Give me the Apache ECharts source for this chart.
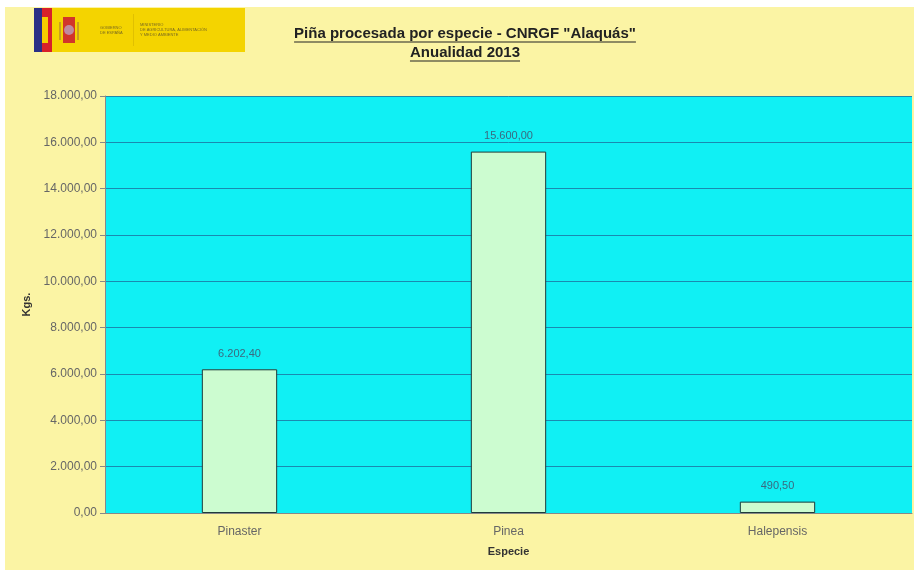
<!DOCTYPE html>
<html><head><meta charset="utf-8">
<script src="https://cdn.jsdelivr.net/npm/echarts@6/dist/echarts.min.js"></script>
<style>html,body{margin:0;padding:0;background:#fff;}#c{width:914px;height:570px;}</style>
</head><body><div id="c"></div>
<script>
var categories = ['Pinaster', 'Pinea', 'Halepensis'];
var values = [6202.40, 15600.00, 490.50];
var yTicks = [0, 2000, 4000, 6000, 8000, 10000, 12000, 14000, 16000, 18000];
var titleLines = ['Piña procesada por especie - CNRGF "Alaquás"', 'Anualidad 2013'];

function fmt(v) {
  var parts = v.toFixed(2).split('.');
  var ip = parts[0].replace(/\B(?=(\d{3})+(?!\d))/g, '.');
  return ip + ',' + parts[1];
}
var tf = 'bold 15px "Liberation Sans", Arial, sans-serif';
var cv = document.createElement('canvas').getContext('2d');
cv.font = tf;
var w1 = cv.measureText(titleLines[0]).width, w2 = cv.measureText(titleLines[1]).width;
var cx = 465;

var chart = echarts.init(document.getElementById('c'), null, {renderer: 'canvas'});
chart.setOption({
  backgroundColor: '#FBF4A4',
  animation: false,
  grid: {left: 105, right: 2, top: 96, bottom: 57},
  xAxis: {
    type: 'category', data: categories,
    name: 'Especie', nameLocation: 'middle', nameGap: 33,
    nameTextStyle: {fontFamily: 'Liberation Sans', fontWeight: 'bold', fontSize: 11, color: '#333'},
    axisLine: {lineStyle: {color: '#888', width: 1}},
    axisTick: {show: false},
    axisLabel: {color: '#666', fontSize: 12, fontFamily: 'Liberation Sans', margin: 13}
  },
  yAxis: {
    type: 'value', min: 0, max: 18000, interval: 2000,
    name: 'Kgs.', nameLocation: 'middle', nameGap: 72, nameRotate: 90,
    nameTextStyle: {fontFamily: 'Liberation Sans', fontWeight: 'bold', fontSize: 11, color: '#333'},
    axisLine: {show: true, lineStyle: {color: '#888'}},
    axisTick: {show: true, length: 5, lineStyle: {color: '#888'}},
    axisLabel: {color: '#666', fontSize: 12, fontFamily: 'Liberation Sans', margin: 8, formatter: function(v){return fmt(v);}},
    splitLine: {show: true, lineStyle: {color: '#1A8AB0', width: 1}},
    splitArea: {show: false}
  },
  series: [{
    type: 'bar', data: values, barWidth: '28%',
    itemStyle: {color: '#CCFCD0', borderColor: '#1F3B3A', borderWidth: 1},
    label: {show: true, position: 'top', distance: 10, color: '#3a6a80', fontSize: 11, fontFamily: 'Liberation Sans',
      formatter: function(p){return fmt(p.value);}}
  }],
  graphic: [
    {type: 'rect', z: -1, shape: {x: 105, y: 96, width: 807, height: 417}, style: {fill: '#10F0F4'}, silent: true},
    {type: 'rect', shape: {x: 0, y: 0, width: 914, height: 7}, style: {fill: '#ffffff'}},
    {type: 'rect', shape: {x: 0, y: 0, width: 5, height: 570}, style: {fill: '#ffffff'}},
    // logo
    {type: 'rect', shape: {x: 34, y: 8, width: 8, height: 44}, style: {fill: '#2A2F86'}},
    {type: 'rect', shape: {x: 42, y: 8, width: 10, height: 44}, style: {fill: '#D8202A'}},
    {type: 'rect', shape: {x: 42, y: 17, width: 6, height: 26}, style: {fill: '#F5CE00'}},
    {type: 'rect', shape: {x: 52, y: 8, width: 193, height: 44}, style: {fill: '#F4D400'}},
    {type: 'rect', shape: {x: 63, y: 17, width: 12, height: 26}, style: {fill: '#D2352A'}},
    {type: 'circle', shape: {cx: 69, cy: 30, r: 5}, style: {fill: '#C08AA0'}},
    {type: 'rect', shape: {x: 59, y: 22, width: 2, height: 18}, style: {fill: '#C9A020'}},
    {type: 'rect', shape: {x: 77, y: 22, width: 2, height: 18}, style: {fill: '#C9A020'}},
    {type: 'text', style: {x: 100, y: 25, text: 'GOBIERNO\nDE ESPAÑA', font: '4px sans-serif', fill: '#7a6a20', lineHeight: 5}},
    {type: 'rect', shape: {x: 133, y: 14, width: 1, height: 32}, style: {fill: '#E0C000'}},
    {type: 'text', style: {x: 140, y: 22, text: 'MINISTERIO\nDE AGRICULTURA, ALIMENTACIÓN\nY MEDIO AMBIENTE', font: '4px sans-serif', fill: '#7a6a20', lineHeight: 5}},
    // title
    {type: 'text', style: {x: cx, y: 26, text: titleLines[0], font: tf, fill: '#222', textAlign: 'center'}},
    {type: 'line', shape: {x1: cx - w1/2, y1: 42, x2: cx + w1/2, y2: 42}, style: {stroke: '#222', lineWidth: 1}},
    {type: 'text', style: {x: cx, y: 45, text: titleLines[1], font: tf, fill: '#222', textAlign: 'center'}},
    {type: 'line', shape: {x1: cx - w2/2, y1: 61, x2: cx + w2/2, y2: 61}, style: {stroke: '#222', lineWidth: 1}}
  ]
});
</script></body></html>
